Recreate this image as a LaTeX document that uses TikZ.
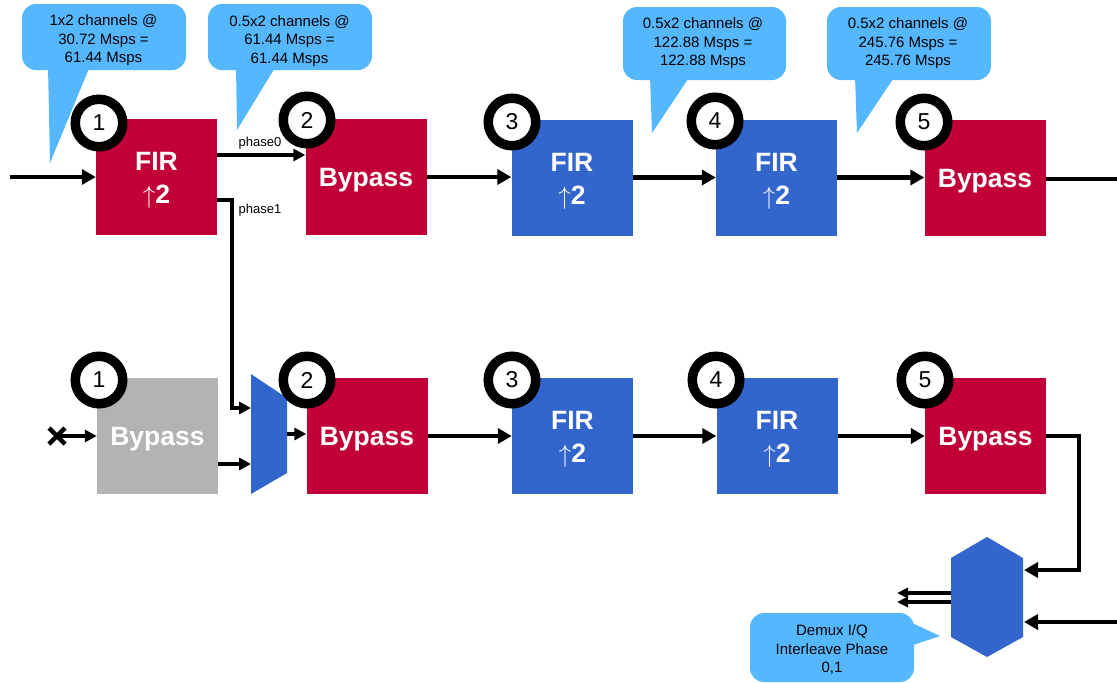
\documentclass[tikz,border=0pt]{standalone}
\usepackage{fontspec}
\setmainfont{Liberation Sans}
\usetikzlibrary{arrows.meta}
\definecolor{stagered}{RGB}{192,0,55}
\definecolor{stageblue}{RGB}{51,102,204}
\definecolor{stagegray}{RGB}{179,179,179}
\definecolor{calloutblue}{RGB}{85,184,255}
\newcommand{\upsample}{FIR\\$\uparrow$2}
\begin{document}
\begin{tikzpicture}[x=1pt,y=-1pt,
  stage/.style={minimum width=121pt, minimum height=116pt, inner sep=0pt,
    text=white, font=\fontsize{26.5}{33}\selectfont\bfseries, align=center,
    text height=19pt, text depth=0pt},
  firstage/.style={stage, text height=53pt, text depth=0pt},
  numring/.style={circle, draw=black, line width=9.5pt, fill=white,
    minimum size=47.5pt, inner sep=0pt, font=\fontsize{23}{23}\selectfont},
  flow/.style={line width=4.5pt, -{Triangle[length=14pt,width=15pt]}},
  flowsmall/.style={line width=4.5pt, -{Triangle[length=12pt,width=12pt]}},
  wire/.style={line width=4.5pt},
  callout/.style={fill=calloutblue, rounded corners=14pt, inner sep=0pt},
  callouttext/.style={align=center, font=\fontsize{15}{18.5}\selectfont},
  phaselabel/.style={font=\fontsize{13}{14}\selectfont, inner sep=0pt}]
\useasboundingbox (0,0) rectangle (1117,683);

% rate callouts above the upper chain
\node[callout, minimum width=164pt, minimum height=66pt] (co1) at (104,37) {};
\fill[calloutblue] (48,66) -- (90,66) -- (50,163) -- cycle;
\node[callouttext] (ct1) at (103.5,40.5) {1x2 channels @\\30.72 Msps =\\61.44 Msps};

\node[callout, minimum width=164pt, minimum height=66pt] (co2) at (290,37) {};
\fill[calloutblue] (236,66) -- (276,66) -- (237,130) -- cycle;
\node[callouttext] (ct2) at (289.5,41) {0.5x2 channels @\\61.44 Msps =\\61.44 Msps};

\node[callout, minimum width=163pt, minimum height=73pt] (co3) at (704.5,43.5) {};
\fill[calloutblue] (650,76) -- (690,76) -- (652,133) -- cycle;
\node[callouttext] (ct3) at (703,43.5) {0.5x2 channels @\\122.88 Msps =\\122.88 Msps};

\node[callout, minimum width=164pt, minimum height=73pt] (co4) at (909,43.5) {};
\fill[calloutblue] (855,76) -- (895,76) -- (857,133) -- cycle;
\node[callouttext] (ct4) at (908,43.5) {0.5x2 channels @\\245.76 Msps =\\245.76 Msps};

% upper chain
\node[firstage, fill=stagered]  (t1) at (156.5,177) {\upsample};
\node[stage, fill=stagered]     (t2) at (366,177) {Bypass};
\node[firstage, fill=stageblue] (t3) at (572,177.5) {\upsample};
\node[firstage, fill=stageblue] (t4) at (776.5,177.5) {\upsample};
\node[stage, fill=stagered]     (t5) at (985,177.5) {Bypass};

% lower chain
\node[stage, fill=stagegray]    (b1) at (157.5,436) {Bypass};
\node[stage, fill=stagered]     (b2) at (367,435.5) {Bypass};
\node[firstage, fill=stageblue] (b3) at (572.5,436) {\upsample};
\node[firstage, fill=stageblue] (b4) at (777,436) {\upsample};
\node[stage, fill=stagered]     (b5) at (985.5,436) {Bypass};

% phase multiplexer in front of the lower stage 2
\coordinate (muxTL) at (251,374);
\coordinate (muxTR) at (287,398);
\coordinate (muxBR) at (287,473);
\coordinate (muxBL) at (251,494);
\fill[stageblue] (muxTL) -- (muxTR) -- (muxBR) -- (muxBL) -- cycle;

% I/Q demux hexagon
\coordinate (hexT)  at (987,537);
\coordinate (hexTR) at (1023,558);
\coordinate (hexBR) at (1023,637);
\coordinate (hexB)  at (987,657);
\coordinate (hexBL) at (951,637);
\coordinate (hexTL) at (951,558);
\fill[stageblue] (hexT) -- (hexTR) -- (hexBR) -- (hexB) -- (hexBL) -- (hexTL) -- cycle;

% upper chain connectors
\coordinate (in1) at (10,177);
\draw[flow] (in1) -- (t1.west);
\coordinate (ph0) at (217,155);
\draw[flowsmall] (ph0) -- (ph0 -| t2.west);
\node[phaselabel] (ph0lbl) at (260,143) {phase0};
\draw[flow] (t2.east |- 0,177) -- (t3.west |- 0,177);
\draw[flow] (t3.east) -- (t4.west);
\draw[flow] (t4.east) -- (t5.west);
\coordinate (out5) at (1117,179);
\draw[wire] (t5.east |- out5) -- (out5);

% phase1 branch into the multiplexer
\coordinate (ph1) at (217,200);
\coordinate (ph1in) at (251,408);
\draw[flowsmall] (ph1) -| (232,408) -- (ph1in);
\node[phaselabel] (ph1lbl) at (260,210) {phase1};

% lower chain connectors
\coordinate (x1) at (57,436);
\draw[line width=4.5pt] (49,428) -- (65,444) (49,444) -- (65,428);
\draw[flowsmall] (x1) -- (b1.west);
\coordinate (g1out) at (218,464);
\coordinate (g1in) at (251,464);
\draw[flowsmall] (g1out) -- (g1in);
\coordinate (muxout) at (287,434);
\draw[flowsmall] (muxout) -- (muxout -| b2.west);
\draw[flow] (b2.east |- 0,436) -- (b3.west);
\draw[flow] (b3.east) -- (b4.west);
\draw[flow] (b4.east) -- (b5.west);

% into and out of the demux
\coordinate (hexin1) at (1024,570);
\coordinate (hexin2) at (1024,622);
\coordinate (rin) at (1117,622);
\draw[flow] (b5.east) -| (1079,570) -- (hexin1);
\draw[flow] (rin) -- (hexin2);
\coordinate (hexo1) at (951,593);
\coordinate (hexo2) at (951,602);
\draw[line width=3.5pt, -{Triangle[length=11pt,width=10pt]}] (hexo1) -- (897,593);
\draw[line width=3.5pt, -{Triangle[length=11pt,width=10pt]}] (hexo2) -- (897,602);

% demux callout
\node[callout, minimum width=164pt, minimum height=69pt] (co5) at (832,647.5) {};
\fill[calloutblue] (910,622) -- (940,636) -- (910,646) -- cycle;
\node[callouttext] (ct5) at (832,650) {Demux I/Q\\Interleave Phase\\0,1};

% stage numbers
\node[numring] (n1) at (99,123) {1};
\node[numring] (n2) at (307,120) {2};
\node[numring] (n3) at (512,122) {3};
\node[numring] (n4) at (715,121) {4};
\node[numring] (n5) at (924,122) {5};
\node[numring] (m1) at (99,380) {1};
\node[numring] (m2) at (307,380) {2};
\node[numring] (m3) at (512,380) {3};
\node[numring] (m4) at (716,380) {4};
\node[numring] (m5) at (925,380) {5};
\end{tikzpicture}
\end{document}
